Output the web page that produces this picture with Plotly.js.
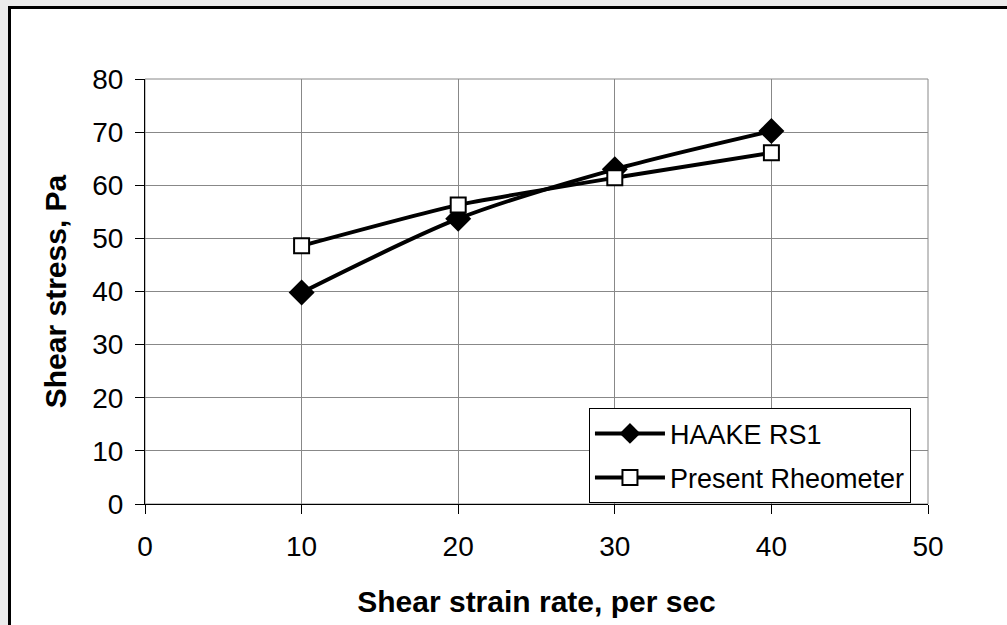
<!DOCTYPE html>
<html>
<head>
<meta charset="utf-8">
<script src="https://cdn.plot.ly/plotly-3.0.1.min.js"></script>
<style>
  html, body { margin: 0; padding: 0; background: #ececec; }
  #wrap { position: relative; width: 1007px; height: 625px; overflow: hidden; background: #ececec; }
  #frame { position: absolute; left: 8px; top: 6px; width: 1100px; height: 700px; background: #ffffff;
           border-left: 3px solid #000; border-top: 3px solid #000; }
  #chart { position: absolute; left: 0; top: 0; width: 1007px; height: 625px; }
</style>
</head>
<body>
<div id="wrap">
  <div id="frame"></div>
  <div id="chart"></div>
</div>
<script>
// Data
const shearRate = [10, 20, 30, 40];
const haakeStress = [39.8, 53.7, 63.0, 70.2];
const presentStress = [48.6, 56.3, 61.4, 66.1];
const xTicks = [0, 10, 20, 30, 40, 50];
const yTicks = [0, 10, 20, 30, 40, 50, 60, 70, 80];
const seriesNames = ["HAAKE RS1", "Present Rheometer"];
const xTitle = "Shear strain rate, per sec";
const yTitle = "Shear stress, Pa";

const font = "'Liberation Sans', Arial, sans-serif";

const traces = [
  {
    x: shearRate, y: haakeStress, name: seriesNames[0], legendgroup: "a",
    type: "scatter", mode: "lines+markers",
    line: { color: "#000", width: 4, shape: "spline", smoothing: 0.8 },
    marker: { symbol: "diamond", size: 20, color: "#000", line: { color: "#000", width: 0 } }
  },
  {
    x: shearRate, y: presentStress, name: seriesNames[1], legendgroup: "b",
    type: "scatter", mode: "lines+markers",
    line: { color: "#000", width: 4, shape: "spline", smoothing: 0.5 },
    marker: { symbol: "square", size: 15, color: "#fff", line: { color: "#000", width: 2 } }
  }
];

const layout = {
  width: 1007, height: 625,
  margin: { l: 145, r: 79, t: 79, b: 121 },
  paper_bgcolor: "rgba(0,0,0,0)",
  plot_bgcolor: "#fff",
  font: { family: font, color: "#000", size: 28 },
  showlegend: true,
  xaxis: {
    range: [0, 50], tickvals: xTicks, ticktext: xTicks.map(String),
    showgrid: true, gridcolor: "#888", gridwidth: 1,
    showline: true, linecolor: "#000", linewidth: 1,
    ticks: "outside", ticklen: 9, tickcolor: "#000", tickwidth: 1,
    ticklabelstandoff: 8,
    tickfont: { family: font, size: 28, color: "#000" },
    zeroline: false, fixedrange: true,
    title: { text: "<b>" + xTitle + "</b>", font: { family: font, size: 30, color: "#000" }, standoff: 30 }
  },
  yaxis: {
    range: [0, 80], tickvals: yTicks, ticktext: yTicks.map(String),
    showgrid: true, gridcolor: "#888", gridwidth: 1,
    showline: true, linecolor: "#000", linewidth: 1,
    ticks: "outside", ticklen: 9, tickcolor: "#000", tickwidth: 1,
    ticklabelstandoff: 6,
    tickfont: { family: font, size: 28, color: "#000" },
    zeroline: false, fixedrange: true,
    title: { text: "<b>" + yTitle + "</b>", font: { family: font, size: 30, color: "#000" }, standoff: 16 }
  },
  shapes: [
    { type: "rect", xref: "paper", yref: "paper", x0: 0, x1: 1, y0: 0, y1: 1,
      line: { color: "#888", width: 1 }, layer: "below" }
  ],
  legend: {
    x: 0.567, y: 0.225, xanchor: "left", yanchor: "top",
    bgcolor: "#fff", bordercolor: "#000", borderwidth: 1,
    font: { family: font, size: 27, color: "#000" },
    itemwidth: 70, traceorder: "grouped", tracegroupgap: 6
  }
};

Plotly.newPlot("chart", traces, layout, { displayModeBar: false, staticPlot: true });
</script>
</body>
</html>
